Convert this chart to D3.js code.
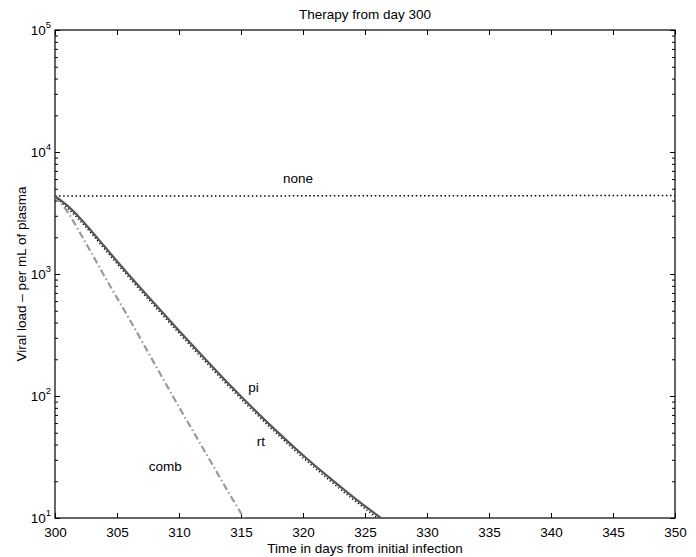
<!DOCTYPE html>
<html>
<head>
<meta charset="utf-8">
<script src="https://cdn.jsdelivr.net/npm/d3@7"></script>
<style>
  body { margin: 0; background: #fff; }
  svg text { font-family: "Liberation Sans", Arial, Helvetica, sans-serif; fill: #000; }
</style>
</head>
<body>
<div id="chart"></div>
<script>
// Viral load after therapy starts on day 300

// Data
const days = [300, 301, 302, 303, 304, 305, 306, 308, 310, 312, 314, 316, 318, 320, 322, 324, 326, 327];
const piLoad = [4350, 3631, 2884, 2213, 1679, 1274, 973, 575, 343, 207, 126, 78.5, 50.1, 32.7, 21.9, 15.0, 10.5, 8.8];
const rtLoad = [4350, 3470, 2750, 2110, 1600, 1215, 928, 548, 327, 197, 120, 75, 47.8, 31.2, 20.9, 14.3, 10.0, 8.4];
const combDays = [300, 301, 302, 303, 304, 306, 308, 310, 312, 314, 316];
const combLoad = [4350, 3240, 2190, 1450, 955, 427, 186, 81.3, 36.3, 16.2, 7.4];
const noneDays = [300, 310, 320, 330, 340, 350];
const noneLoad = [4350, 4360, 4370, 4380, 4390, 4400];

const xTicks = [300, 305, 310, 315, 320, 325, 330, 335, 340, 345, 350];
const yDecades = [1, 2, 3, 4, 5];

const labels = [
    {text: "none", day: 319.6, load: 6000},
    {text: "pi", day: 316.0, load: 115},
    {text: "rt", day: 316.6, load: 42},
    {text: "comb", day: 308.9, load: 26}
];

// Set up dimensions
const width = 696;
const height = 557;
const margin = {top: 30, right: 21, bottom: 39, left: 55};

const svg = d3.select("#chart")
    .append("svg")
    .attr("width", width)
    .attr("height", height);

const x = d3.scaleLinear()
    .domain([300, 350])
    .range([margin.left, width - margin.right]);

const y = d3.scaleLog()
    .domain([10, 1e5])
    .range([height - margin.bottom, margin.top]);

// minor ticks 2..9 in each decade
const minorTicks = [];
for (let e = 1; e < 5; e++) {
    for (let m = 2; m <= 9; m++) minorTicks.push(m * Math.pow(10, e));
}

svg.append("defs").append("clipPath")
    .attr("id", "clip")
    .append("rect")
    .attr("x", margin.left)
    .attr("y", margin.top)
    .attr("width", width - margin.left - margin.right)
    .attr("height", height - margin.top - margin.bottom);

// Axes (ticks pointing inward, MATLAB style)
function styleAxis(g) {
    g.select(".domain").remove();
    g.selectAll("line").attr("stroke", "#000").attr("stroke-width", 1);
}

svg.append("g")
    .attr("transform", `translate(0,${y(10)})`)
    .call(d3.axisBottom(x).tickValues(xTicks).tickSize(-5).tickPadding(9).tickFormat(d3.format("d")))
    .call(styleAxis)
    .call(g => g.selectAll("text").attr("font-size", 13.5));

svg.append("g")
    .attr("transform", `translate(0,${y(1e5)})`)
    .call(d3.axisTop(x).tickValues(xTicks).tickSize(-5).tickFormat(""))
    .call(styleAxis);

svg.append("g")
    .attr("transform", `translate(${x(300)},0)`)
    .call(d3.axisLeft(y).tickValues(minorTicks).tickSize(-3).tickFormat(""))
    .call(styleAxis);

svg.append("g")
    .attr("transform", `translate(${x(350)},0)`)
    .call(d3.axisRight(y).tickValues(minorTicks).tickSize(-3).tickFormat(""))
    .call(styleAxis);

svg.append("g")
    .attr("transform", `translate(${x(300)},0)`)
    .call(d3.axisLeft(y).tickValues(yDecades.map(e => Math.pow(10, e))).tickSize(-5).tickFormat(""))
    .call(styleAxis);

svg.append("g")
    .attr("transform", `translate(${x(350)},0)`)
    .call(d3.axisRight(y).tickValues(yDecades.map(e => Math.pow(10, e))).tickSize(-5).tickFormat(""))
    .call(styleAxis);

// y tick labels as 10 with superscript
const yLab = svg.append("g")
    .selectAll("text")
    .data(yDecades)
    .join("text")
    .attr("x", margin.left - 4)
    .attr("y", d => y(Math.pow(10, d)) + 5)
    .attr("text-anchor", "end")
    .attr("font-size", 13.5);
yLab.append("tspan").text("10");
yLab.append("tspan")
    .attr("dy", -7)
    .attr("font-size", 9.5)
    .text(d => d);

// frame
svg.append("rect")
    .attr("x", margin.left)
    .attr("y", margin.top)
    .attr("width", width - margin.left - margin.right)
    .attr("height", height - margin.top - margin.bottom)
    .attr("fill", "none")
    .attr("stroke", "#000")
    .attr("stroke-width", 1.2);

// Lines
const line = d3.line()
    .x(d => x(d[0]))
    .y(d => y(d[1]))
    .curve(d3.curveMonotoneX);

const plot = svg.append("g").attr("clip-path", "url(#clip)");

plot.append("path")
    .datum(d3.zip(noneDays, noneLoad))
    .attr("d", line)
    .attr("fill", "none")
    .attr("stroke", "#000")
    .attr("stroke-width", 1.5)
    .attr("stroke-dasharray", "1.5,2.6");

plot.append("path")
    .datum(d3.zip(combDays, combLoad))
    .attr("d", line)
    .attr("fill", "none")
    .attr("stroke", "#999")
    .attr("stroke-width", 2.2)
    .attr("stroke-dasharray", "7,3,1.5,3");

plot.append("path")
    .datum(d3.zip(days, rtLoad))
    .attr("d", line)
    .attr("fill", "none")
    .attr("stroke", "#000")
    .attr("stroke-width", 1.5)
    .attr("stroke-dasharray", "1.2,2.4");

plot.append("path")
    .datum(d3.zip(days, piLoad))
    .attr("d", line)
    .attr("fill", "none")
    .attr("stroke", "#555")
    .attr("stroke-width", 2.2);

// Curve labels
svg.append("g")
    .selectAll("text")
    .data(labels)
    .join("text")
    .attr("x", d => x(d.day))
    .attr("y", d => y(d.load))
    .attr("text-anchor", "middle")
    .attr("dominant-baseline", "middle")
    .attr("font-size", 13.5)
    .text(d => d.text);

// Title and axis labels
svg.append("text")
    .attr("x", (x(300) + x(350)) / 2)
    .attr("y", 19)
    .attr("text-anchor", "middle")
    .attr("font-size", 13.5)
    .text("Therapy from day 300");

svg.append("text")
    .attr("x", (x(300) + x(350)) / 2)
    .attr("y", 553)
    .attr("text-anchor", "middle")
    .attr("font-size", 13.5)
    .text("Time in days from initial infection");

svg.append("text")
    .attr("transform", `translate(26,${(y(10) + y(1e5)) / 2}) rotate(-90)`)
    .attr("text-anchor", "middle")
    .attr("font-size", 13.5)
    .text("Viral load \u2013 per mL of plasma");
</script>
</body>
</html>
